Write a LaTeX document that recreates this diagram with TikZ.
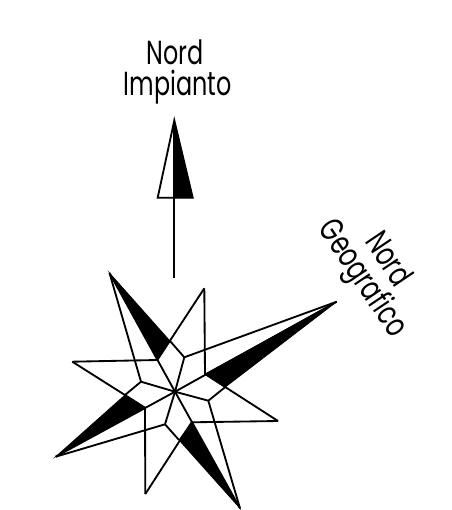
\documentclass[tikz,border=0pt]{standalone}
\usepackage{fontspec}
\setmainfont{Poppins}
\tikzset{
	rosa/.style={line width=1.05pt, line join=miter},
	nero/.style={fill=black, draw=black, line width=0.4pt},
	scritta/.style={inner sep=0pt, anchor=base, font=\fontsize{19}{19}\selectfont, xscale=0.715},
	scrittag/.style={rotate=-56, scritta},
}
\begin{document}
\begin{tikzpicture}[x=0.02cm, y=-0.02cm]
\useasboundingbox (0,0) rectangle (452,510);
\node[scritta] (nord) at (175,65) {Nord};
\node[scritta] (impianto) at (177.5,95) {Impianto};
\node[scrittag] (nordg) at (380,265) {Nord};
\node[scrittag] (geografico) at (355,284) {Geografico};
\coordinate (punta) at (174.3,120.5);
\coordinate (basel) at (157.7,197.7);
\coordinate (baser) at (192.7,197.7);
\coordinate (basec) at (174.3,197.7);
\coordinate (coda) at (174.3,278.3);
\coordinate (centro) at (175,391.7);
\coordinate (tipnw) at (109.5,273);
\coordinate (tipn) at (204.3,288.3);
\coordinate (tipne) at (336.7,301.7);
\coordinate (tipe) at (278,421);
\coordinate (tipse) at (240,508.3);
\coordinate (tips) at (145.3,494);
\coordinate (tipsw) at (55.7,456.7);
\coordinate (tipw) at (72.3,361.7);
\coordinate (n1) at (170,341);
\coordinate (n2) at (184.3,357.3);
\coordinate (e1) at (205,374);
\coordinate (e2) at (225,387.3);
\coordinate (e3) at (208.3,400.7);
\coordinate (s1) at (191.7,422.3);
\coordinate (s2) at (179,440);
\coordinate (s3) at (165,424.3);
\coordinate (w1) at (145,407.7);
\coordinate (w2) at (125,395);
\coordinate (w3) at (141,381.7);
\coordinate (n3) at (157.3,360);
\fill[nero] (punta) -- (baser) -- (basec) -- cycle;
\fill[nero] (tipnw) -- (n1) -- (n3) -- cycle;
\fill[nero] (tipne) -- (e2) -- (e1) -- cycle;
\fill[nero] (tipse) -- (s2) -- (s1) -- cycle;
\fill[nero] (tipsw) -- (w2) -- (w1) -- cycle;
\draw[rosa] (punta) -- (basel) -- (baser) -- cycle;
\draw[rosa] (punta) -- (coda);
\draw[rosa] (tipnw) -- (centro);
\draw[rosa] (tipne) -- (centro);
\draw[rosa] (tipse) -- (centro);
\draw[rosa] (tipsw) -- (centro);
\draw[rosa] (tipnw) -- (w3) -- (centro);
\draw[rosa] (tipne) -- (n2) -- (centro);
\draw[rosa] (tipse) -- (e3) -- (centro);
\draw[rosa] (tipsw) -- (s3) -- (centro);
\draw[rosa] (w3) -- (w2);
\draw[rosa] (n2) -- (n1);
\draw[rosa] (e3) -- (e2);
\draw[rosa] (s3) -- (s2);
\draw[rosa] (tipn) -- (n3);
\draw[rosa] (tipn) -- (e1);
\draw[rosa] (tipe) -- (e1);
\draw[rosa] (tipe) -- (s1);
\draw[rosa] (tips) -- (s1);
\draw[rosa] (tips) -- (w1);
\draw[rosa] (tipw) -- (w1);
\draw[rosa] (tipw) -- (n3);
\end{tikzpicture}
\end{document}
